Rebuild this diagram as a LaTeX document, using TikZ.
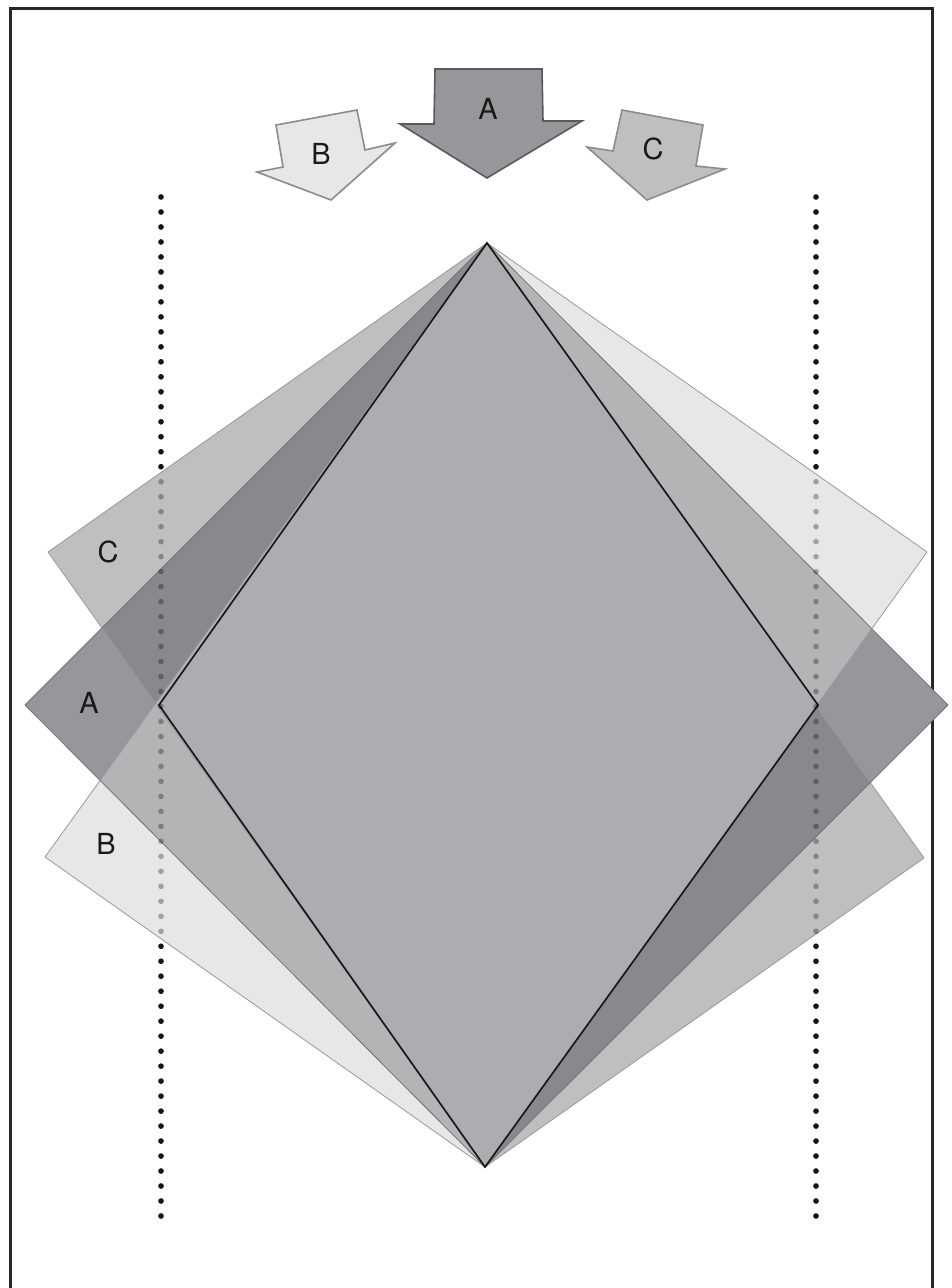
\documentclass[tikz,border=0pt]{standalone}
\usepackage{fontspec}
\setmainfont{TeX Gyre Heros}
\begin{document}
\begin{tikzpicture}[x=1pt,y=-1pt,
  thinedge/.style={draw=black!55,line width=0.8pt,line join=round},
  arrowshape/.style={line width=1.6pt,line join=miter},
  lbl/.style={font=\fontsize{29}{31}\selectfont,text=black!90,inner sep=0pt},
  dotblack/.style={fill=black!88},
  dotsoft/.style={fill=black,fill opacity=0.3}]
\useasboundingbox (0,0) rectangle (951,1288);
\definecolor{Bonly}{HTML}{E7E7E7}
\definecolor{Conly}{HTML}{BEBFC1}
\definecolor{Aonly}{HTML}{96979A}
\definecolor{ACcol}{HTML}{88898C}
\definecolor{ABcol}{HTML}{B3B4B6}
\definecolor{Dcol}{HTML}{ACADB0}
% corner coordinates
\coordinate (T) at (487,243);
\coordinate (Bt) at (485,1167);
\coordinate (Al) at (25,705);
\coordinate (Ar) at (948,705);
\coordinate (Cl) at (48,552);
\coordinate (Cr) at (924,858);
\coordinate (Bl) at (45,857);
\coordinate (Br) at (927,552);
\coordinate (Dl) at (159,705);
\coordinate (Dr) at (818,705);
% frame
\draw[line width=3pt,draw=black!85] (10,1300) -- (10,8) -- (932,8) -- (932,1300);
% dots under shapes
\foreach \i in {0,...,68} {
  \fill[dotblack] (161,197+\i*14.985) circle (2.8);
  \fill[dotblack] (816,197+\i*14.985) circle (2.8);
}
% base fills
\fill[Conly] (T) -- (Cl) -- (Bt) -- (Cr) -- cycle;
\fill[Bonly] (T) -- (Br) -- (Bt) -- (Bl) -- cycle;
\fill[Aonly] (T) -- (Ar) -- (Bt) -- (Al) -- cycle;
\begin{scope}
  \clip (T) -- (Ar) -- (Bt) -- (Al) -- cycle;
  \fill[ACcol] (T) -- (Cl) -- (Bt) -- (Cr) -- cycle;
  \fill[ABcol] (T) -- (Br) -- (Bt) -- (Bl) -- cycle;
\end{scope}
% thin outlines
\draw[thinedge,draw=black!40] (T) -- (Cl) -- (Bt) -- (Cr) -- cycle;
\draw[thinedge,draw=black!40] (T) -- (Br) -- (Bt) -- (Bl) -- cycle;
\draw[thinedge,draw=black!55] (T) -- (Ar) -- (Bt) -- (Al) -- cycle;
% central diamond
\filldraw[fill=Dcol,draw=black!90,line width=1.7pt,line join=miter] (T) -- (Dr) -- (Bt) -- (Dl) -- cycle;
% dots seen through shapes
\foreach \i in {0,...,68} {
  \fill[dotsoft] (161,197+\i*14.985) circle (2.8);
  \fill[dotsoft] (816,197+\i*14.985) circle (2.8);
}
% labels on shapes
\node[lbl] (labC) at (108,552) {C};
\node[lbl] (labA) at (89,703) {A};
\node[lbl] (labB) at (106,844) {B};
% arrows
\filldraw[arrowshape,fill=Aonly,draw=black!65]
  (435,69) -- (542,69) -- (543,121) -- (582,121) -- (487,178) -- (400,124) -- (434,124) -- cycle;
\filldraw[arrowshape,fill=Bonly,draw=black!45]
  (276,125) -- (357,110) -- (365,150) -- (395,143) -- (331,200) -- (257,172) -- (283,167) -- cycle;
\filldraw[arrowshape,fill=Conly,draw=black!45]
  (622,110) -- (703,125) -- (696,166) -- (725,169) -- (647,200) -- (587,147) -- (613,151) -- cycle;
\node[lbl] (arrA) at (488,109) {A};
\node[lbl] (arrB) at (321,154) {B};
\node[lbl] (arrC) at (653,149) {C};
\end{tikzpicture}
\end{document}
